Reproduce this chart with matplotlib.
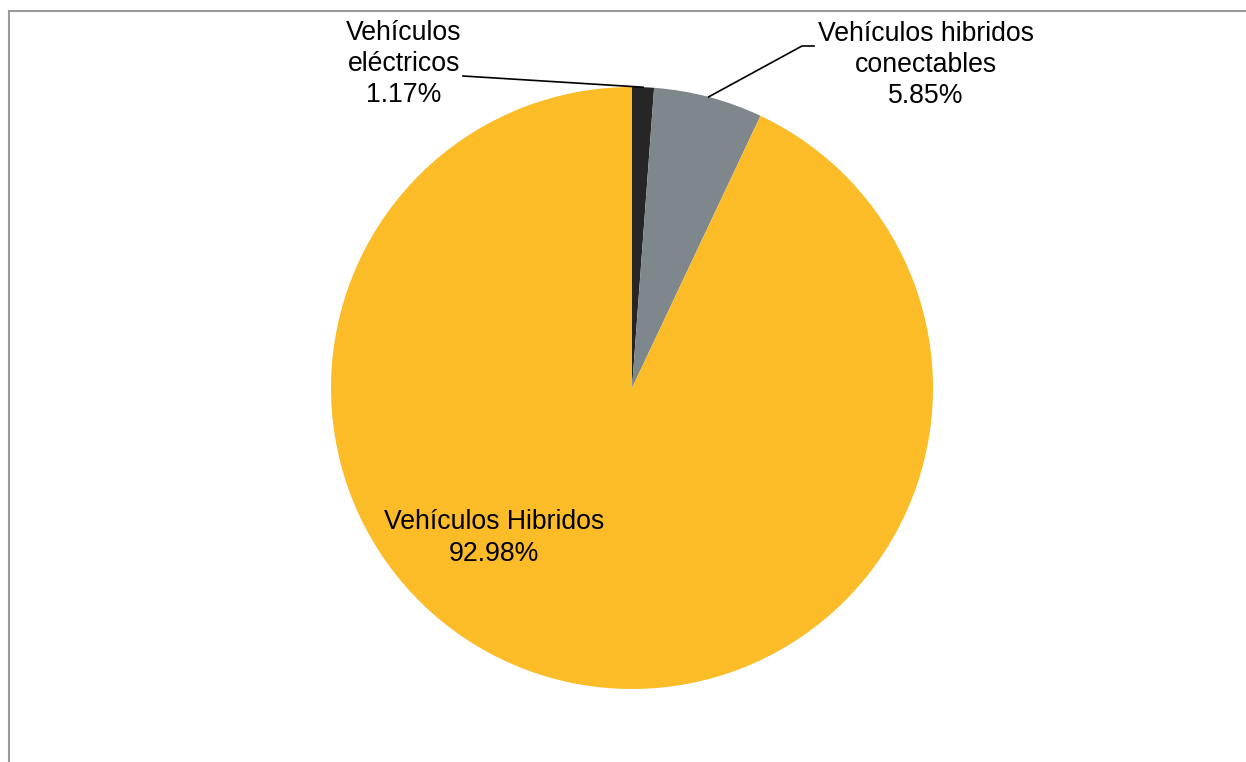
import matplotlib
matplotlib.use("Agg")
import matplotlib.pyplot as plt
import numpy as np

categories = ["Vehículos\neléctricos", "Vehículos hibridos\nconectables", "Vehículos Hibridos"]
values = [1.17, 5.85, 92.98]
colors = ["#262626", "#7E878C", "#FBBC27"]

plt.rcParams['font.family'] = ['Liberation Sans', 'DejaVu Sans']

W, H = 1246, 762
fig = plt.figure(figsize=(W / 100, H / 100), dpi=100)

# frame (top and left visible)
fig.add_artist(plt.Line2D([9 / W, 1.0], [1 - 11 / H, 1 - 11 / H], color="#9A9A9A", lw=1.5))
fig.add_artist(plt.Line2D([9 / W, 9 / W], [1 - 11 / H, 0.0], color="#9A9A9A", lw=1.5))

cx, cy, r = 632, 388, 301
ax = fig.add_axes([(cx - r) / W, (H - cy - r) / H, 2 * r / W, 2 * r / H])
wedges, _ = ax.pie(values, colors=colors, startangle=90, counterclock=False,
                   radius=1, wedgeprops=dict(linewidth=0))
ax.set_xlim(-1, 1)
ax.set_ylim(-1, 1)
ax.set_aspect("equal")
ax.axis("off")


def px2d(px, py):
    return (px - cx) / r, (cy - py) / r


fs = 19.2
# label positions (pixels) for text centers
label_pos = [(404, 64), (926, 65), (494, 538)]
line_starts = [(463, 76), (802, 46), None]

for w, cat, v, lp, ls in zip(wedges, categories, values, label_pos, line_starts):
    txt = f"{cat}\n{v:.2f}%"
    tx, ty = px2d(*lp)
    ax.text(tx, ty, txt, ha="center", va="center", fontsize=fs, color="#000000",
            linespacing=1.26, clip_on=False)
    if ls is not None:
        mid = np.deg2rad((w.theta1 + w.theta2) / 2)
        ex, ey = np.cos(mid), np.sin(mid)
        sx, sy = px2d(*ls)
        if cat.startswith("Vehículos hibridos"):
            hx, hy = px2d(ls[0] + 12, ls[1])
            ax.plot([hx, sx, ex], [hy, sy, ey], color="black", lw=1.2, clip_on=False)
        else:
            ax.plot([sx, ex], [sy, ey], color="black", lw=1.2, clip_on=False)

fig.savefig("out.png", dpi=100)
